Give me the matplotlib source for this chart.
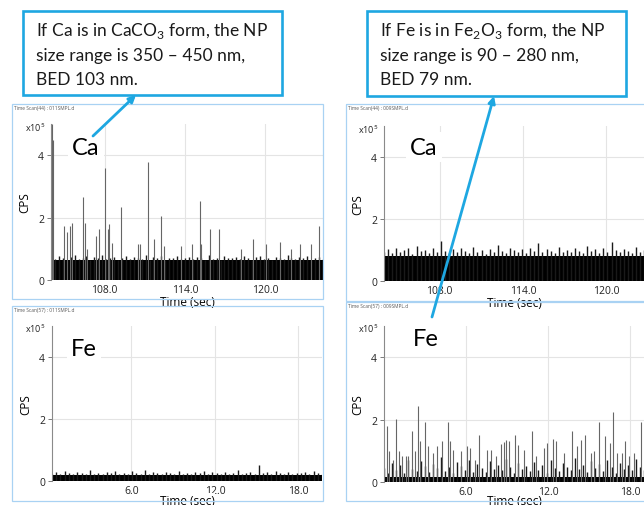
import numpy as np
import matplotlib
matplotlib.use("Agg")
import matplotlib.pyplot as plt
from matplotlib.patches import Rectangle, FancyArrowPatch

plt.rcParams['font.family'] = ['Lato', 'DejaVu Sans']
plt.rcParams['mathtext.fontset'] = 'custom'
plt.rcParams['mathtext.rm'] = 'Lato'

W, H = 644, 506

# ---- data (CPS, x10^5) ----
# Ca, sample 011 (top left)
ca1_core = 0.63
ca1_fringe = [0.72, 0.66, 0.78, 0.70, 0.64, 0.74, 0.80, 0.68, 0.71, 0.76, 0.65, 0.73, 0.69, 0.79,
              0.67, 0.72, 0.75, 0.63, 0.70, 0.77, 0.66, 0.74, 0.71, 0.68, 0.80, 0.65, 0.73, 0.70,
              0.76, 0.64, 0.72, 0.69, 0.78, 0.66, 0.71, 0.74, 0.67, 0.75, 0.70, 0.63, 0.79, 0.68,
              0.72, 0.65, 0.76, 0.71, 0.69, 0.74, 0.66, 0.78, 0.70, 0.64, 0.73, 0.77, 0.68, 0.71,
              0.65, 0.75, 0.70, 0.67, 0.79, 0.72, 0.66, 0.74, 0.69, 0.76, 0.64, 0.71, 0.73, 0.68]
ca1_t = [104.05, 104.13, 104.96, 105.21, 105.44, 105.56, 106.42, 106.52, 106.72, 107.35, 107.55,
         108.06, 108.28, 108.36, 108.58, 109.24, 110.50, 110.62, 111.23, 111.68, 112.24, 112.41,
         113.70, 114.50, 115.11, 115.21, 115.86, 116.57, 118.18, 119.11, 120.05, 121.10, 121.91,
         122.61, 123.40, 124.03]
ca1_h = [5.0, 4.5, 1.74, 1.55, 1.74, 1.83, 2.65, 1.83, 1.0, 1.42, 1.63,
         3.59, 1.63, 1.8, 1.2, 2.35, 1.15, 1.15, 3.77, 1.33, 2.04, 1.1,
         1.1, 1.15, 2.54, 1.15, 1.63, 1.63, 1.0, 1.33, 1.15, 1.23, 1.0,
         1.15, 1.15, 1.74]

# Ca, sample 009 (top right)
ca2_core = 0.82
ca2_fringe = [0.95, 1.02, 0.90, 1.08, 0.93, 0.99, 1.05, 0.88, 1.12, 0.96, 1.00, 0.91, 1.06, 0.94,
              1.30, 0.97, 0.89, 1.03, 0.92, 1.07, 0.98, 0.90, 1.10, 0.95, 1.01, 0.88, 1.04, 0.93,
              1.15, 0.97, 0.91, 1.06, 0.99, 0.94, 1.02, 0.89, 1.08, 0.96, 1.21, 0.92, 1.03, 0.97,
              0.90, 1.09, 0.95, 1.00, 0.93, 1.05, 0.98, 0.91, 1.12, 0.96, 1.02, 0.89, 1.07, 0.94,
              1.25, 0.99, 0.92, 1.04, 0.97, 0.90, 1.10, 0.95, 1.01]

# Fe, sample 011 (bottom left)
fe1_core = 0.19
fe1_fringe = [0.24, 0.28, 0.21, 0.33, 0.25, 0.22, 0.30, 0.26, 0.23, 0.35, 0.24, 0.27, 0.21, 0.29,
              0.25, 0.32, 0.23, 0.26, 0.22, 0.31, 0.27, 0.24, 0.34, 0.22, 0.28, 0.25, 0.23, 0.30,
              0.26, 0.21, 0.33, 0.24, 0.27, 0.22, 0.29, 0.25, 0.31, 0.23, 0.28, 0.26, 0.22, 0.30,
              0.24, 0.27, 0.35, 0.23, 0.26, 0.29, 0.22, 0.51, 0.25, 0.28, 0.23, 0.32, 0.26, 0.24,
              0.30, 0.22, 0.27, 0.25, 0.29, 0.23, 0.31, 0.26, 0.24]

# Fe, sample 009 (bottom right)
fe2_core = 0.17
fe2_fringe = [0.45, 0.30, 0.62, 0.38, 0.55, 0.28, 0.72, 0.41, 0.35, 0.66, 0.50, 0.32, 0.58, 0.44,
              0.80, 0.36, 0.48, 0.29, 0.63, 0.52, 0.40, 0.70, 0.33, 0.57, 0.46, 0.31, 0.68, 0.42,
              0.54, 0.37, 0.75, 0.47, 0.30, 0.60, 0.43, 0.51, 0.35, 0.65, 0.39, 0.56, 0.28, 0.71,
              0.45, 0.34, 0.62, 0.49, 0.38, 0.77, 0.41, 0.53, 0.32, 0.66, 0.44, 0.58, 0.36, 0.69,
              0.47, 0.30, 0.61, 0.42, 0.55, 0.37, 0.73, 0.48, 0.40]
fe2_t = [0.25, 0.39, 0.64, 0.91, 1.13, 1.32, 1.59, 1.76, 2.01, 2.28, 2.48, 2.60, 2.99, 3.24, 3.58,
         3.85, 4.26, 4.68, 4.85, 5.05, 5.61, 6.03, 6.32, 6.64, 6.96, 7.50, 7.79, 8.16, 8.53, 8.77,
         8.90, 9.17, 9.56, 9.78, 10.20, 10.78, 11.08, 11.67, 11.91, 12.38, 12.57, 13.14, 13.77,
         14.12, 14.41, 14.68, 15.10, 15.34, 15.74, 16.13, 16.50, 16.76, 17.06, 17.40, 17.60,
         17.92, 18.28, 18.77]
fe2_h = [1.81, 0.99, 0.72, 2.03, 0.99, 0.83, 0.83, 0.83, 1.63, 0.99, 2.43, 1.31, 1.93, 1.15, 0.94,
         1.15, 1.31, 1.93, 1.31, 1.04, 0.99, 1.15, 1.10, 0.72, 1.52, 1.04, 1.04, 0.83, 1.23, 1.28,
         1.36, 1.31, 1.52, 1.20, 1.04, 1.63, 0.83, 1.10, 1.26, 1.38, 1.31, 0.94, 1.63,
         1.15, 1.36, 1.52, 0.94, 0.99, 1.93, 1.47, 1.26, 2.23, 0.94, 0.94, 1.31,
         0.83, 0.94, 1.93]

ca_ticks = [108.0, 114.0, 120.0]
fe_ticks = [6.0, 12.0, 18.0]
y_ticks = [0, 2, 4]

fig = plt.figure(figsize=(W / 100, H / 100), dpi=100)
LABEL_FONT = ['Open Sans', 'DejaVu Sans']


def px_axes(x0, y0, x1, y1, **kw):
    return fig.add_axes([x0 / W, 1 - y1 / H, (x1 - x0) / W, (y1 - y0) / H], **kw)


def scan_panel(ax, xlim, xticks, core, fringe, spike_t=None, spike_h=None, xpad=0):
    ax.set_facecolor('none')
    ax.set_xlim(*xlim)
    ax.set_ylim(0, 5)
    ax.grid(True, color='#e4e4e4', lw=0.8)
    ax.set_axisbelow(True)
    # dense baseline band, its ragged top drawn as short spikes
    ax.fill_between(list(xlim), 0, core, color='black', lw=0, zorder=2)
    ft = np.linspace(xlim[0], xlim[1], len(fringe))
    ax.vlines(ft, 0, fringe, color='#1a1a1a', lw=1.0, zorder=2)
    if spike_t is not None:
        ax.vlines(spike_t, 0, spike_h, color='#666666', lw=0.8, zorder=3)
    ax.set_xticks(xticks)
    ax.set_xticklabels([f'{v:.1f}' for v in xticks])
    ax.set_yticks(y_ticks)
    ax.tick_params(axis='x', length=0, pad=3, labelsize=7.5, labelcolor='#222222')
    ax.tick_params(axis='y', length=3, width=0.6, color='#666666', pad=2,
                   labelsize=7.5, labelcolor='#222222')
    for s in ['top', 'right', 'bottom']:
        ax.spines[s].set_visible(False)
    ax.spines['left'].set_color('#8a8a8a')
    ax.spines['left'].set_linewidth(0.8)
    for lab in ax.get_xticklabels() + ax.get_yticklabels():
        lab.set_fontfamily(LABEL_FONT)
    ax.set_ylabel('CPS', fontsize=8.5, labelpad=5, family=LABEL_FONT)
    ax.set_xlabel('Time (sec)', fontsize=8.5, labelpad=xpad, family=LABEL_FONT,
                  bbox=dict(facecolor='white', edgecolor='none', pad=0.5))


ax1 = px_axes(51, 125, 323, 281)
scan_panel(ax1, (104.0, 124.3), ca_ticks, ca1_core, ca1_fringe, ca1_t, ca1_h)
ax2 = px_axes(384, 127, 644, 282)
scan_panel(ax2, (104.0, 122.7), ca_ticks, ca2_core, ca2_fringe)
ax3 = px_axes(52, 327, 322, 482)
scan_panel(ax3, (0.3, 19.7), fe_ticks, fe1_core, fe1_fringe, xpad=-1.5)
ax4 = px_axes(384, 327, 644, 483)
scan_panel(ax4, (0.0, 19.0), fe_ticks, fe2_core, fe2_fringe, fe2_t, fe2_h, xpad=-2)

# ---- overlay in pixel coordinates ----
ov = fig.add_axes([0, 0, 1, 1], zorder=10)
ov.set_xlim(0, W)
ov.set_ylim(H, 0)
ov.axis('off')
ov.patch.set_alpha(0)

frame_c = '#a9d2f3'
for (x0, y0, x1, y1, title) in [(12, 105, 323, 300, 'Time Scan(44) : 011SMPL.d'),
                                (12, 307, 323, 502, 'Time Scan(57) : 011SMPL.d'),
                                (346, 105, 650, 302, 'Time Scan(44) : 009SMPL.d'),
                                (346, 303, 650, 502, 'Time Scan(57) : 009SMPL.d')]:
    ov.add_patch(Rectangle((x0, y0), x1 - x0, y1 - y0, fill=False, ec=frame_c, lw=0.9, zorder=1))
    ov.text(x0 + 2, y0 + 3.5, title, fontsize=3.5, color='#555555', va='center', ha='left',
            family=LABEL_FONT)

for (x, y) in [(45, 128), (378, 130), (45, 329), (378, 329)]:
    ov.text(x, y, 'x10$^5$', fontsize=6.5, ha='right', va='center', color='#222222',
            family=LABEL_FONT)

for (x, y, s) in [(86, 148, 'Ca'), (424, 148, 'Ca'), (84, 349, 'Fe'), (426, 340, 'Fe')]:
    ov.text(x, y, s, fontsize=17, ha='center', va='center', color='black',
            bbox=dict(facecolor='white', edgecolor='none', pad=3), zorder=3)

box_c = '#1ea7e1'
callouts = [(23, 12, 282, 96, ['If Ca is in CaCO$_3$ form, the NP', 'size range is 350 – 450 nm,', 'BED 103 nm.']),
            (367, 12, 626, 97, ['If Fe is in Fe$_2$O$_3$ form, the NP', 'size range is 90 – 280 nm,', 'BED 79 nm.'])]
for (x0, y0, x1, y1, lines) in callouts:
    ov.add_patch(Rectangle((x0, y0), x1 - x0, y1 - y0, facecolor='white', ec=box_c, lw=1.9, zorder=4))
    for i, line in enumerate(lines):
        ov.text(x0 + 13, y0 + 19 + i * 24.5, line, fontsize=12.5, ha='left', va='center',
                color='#1a1a1a', zorder=5)

for (a, b) in [((93, 137), (136, 96)), ((432, 318), (494, 97))]:
    ov.add_patch(FancyArrowPatch(a, b, arrowstyle='-|>', mutation_scale=10, color=box_c,
                                 lw=2.0, shrinkA=0, shrinkB=0, zorder=6))

fig.savefig('out.png', dpi=100)
